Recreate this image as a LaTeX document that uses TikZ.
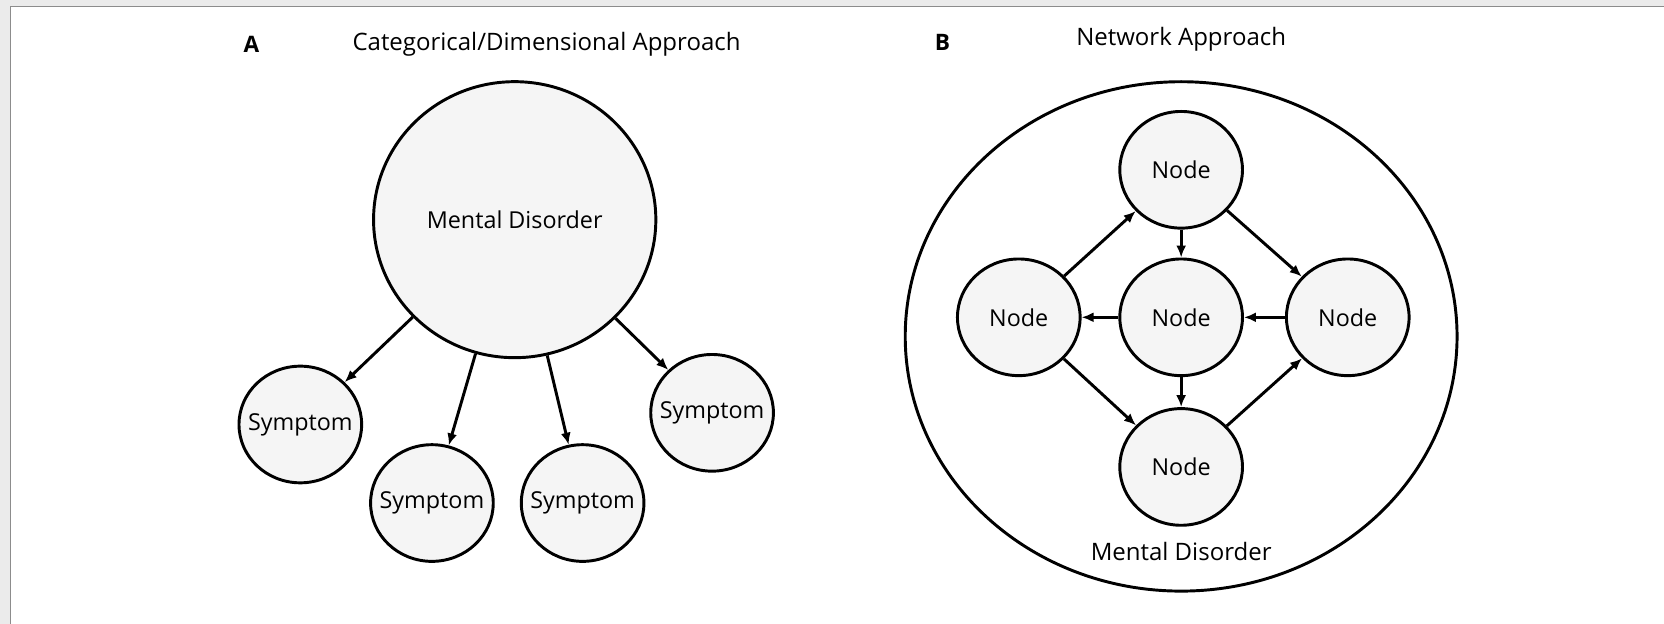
\documentclass[tikz,border=0pt]{standalone}
\usepackage{fontspec}
\setmainfont{Open Sans}
\usetikzlibrary{shapes.geometric,arrows.meta}
\newcommand{\zw}[1]{\makebox[0pt]{#1}}
\begin{document}
\begin{tikzpicture}[x=0.7959pt,y=-0.7959pt,
  bubble/.style={draw=black,line width=2.2pt,fill=black!4,ellipse,inner sep=0pt,
    font=\fontsize{17.5}{20}\selectfont},
  small/.style={bubble,minimum width=92pt,minimum height=87.5pt},
  arr/.style={line width=2.2pt,-{Latex[length=9pt,width=7.5pt]}},
  lbl/.style={font=\fontsize{18}{21}\selectfont},
  panel/.style={font=\fontsize{17}{18}\selectfont\bfseries}]
\useasboundingbox (0,0) rectangle (1568,588);
\fill[black!8] (0,0) rectangle (1568,588);
\fill[white] (10,6) rectangle (1568,588);
\draw[black!45,line width=0.8pt] (10,588) -- (10,6) -- (1568,6);
% Panel A
\node[panel] (A) at (237,42) {A};
\node[lbl] (tA) at (515,42) {Categorical/Dimensional Approach};
\node[bubble,minimum width=211.7pt,minimum height=207pt] (md) at (485,207) {\zw{Mental Disorder}};
\node[small] (s1) at (283,400) {\zw{Symptom}};
\node[small] (s2) at (407,474) {\zw{Symptom}};
\node[small] (s3) at (549,474) {\zw{Symptom}};
\node[small] (s4) at (671,389) {\zw{Symptom}};
\draw[arr] (md) -- (s1);
\draw[arr] (md) -- (s2);
\draw[arr] (md) -- (s3);
\draw[arr] (md) -- (s4);
% Panel B
\node[panel] (B) at (888,40) {B};
\node[lbl] (tB) at (1113,37) {Network Approach};
\draw[line width=2.2pt] (1113,317) ellipse [x radius=260, y radius=240];
\node[lbl] (mdB) at (1113,520) {Mental Disorder};
\node[small] (nt) at (1113,160) {\zw{Node}};
\node[small] (nc) at (1113,299) {\zw{Node}};
\node[small] (nl) at (960,299) {\zw{Node}};
\node[small] (nr) at (1270,299) {\zw{Node}};
\node[small] (nb) at (1113,440) {\zw{Node}};
\draw[arr] (nl) -- (nt);
\draw[arr] (nt) -- (nr);
\draw[arr] (nt) -- (nc);
\draw[arr] (nc) -- (nl);
\draw[arr] (nr) -- (nc);
\draw[arr] (nl) -- (nb);
\draw[arr] (nb) -- (nr);
\draw[arr] (nc) -- (nb);
\end{tikzpicture}
\end{document}
